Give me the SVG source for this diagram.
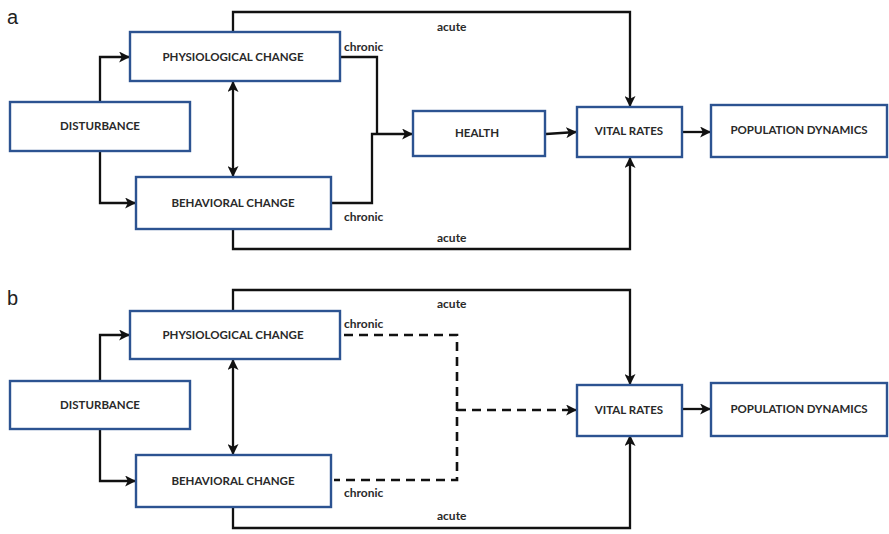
<svg xmlns="http://www.w3.org/2000/svg" width="889" height="534" viewBox="0 0 889 534">
  <style>
    .box rect { fill: #ffffff; stroke: #2c5391; stroke-width: 2.4; }
    .box text { font-family: Lato, "Liberation Sans", sans-serif; font-weight: bold; font-size: 11.5px; fill: #2a2a2a; text-anchor: middle; }
    .lbl { font-family: Lato, "Liberation Sans", sans-serif; font-weight: bold; font-size: 12px; fill: #2a2a2a; }
    .panel { font-family: "Liberation Sans", Arial, sans-serif; font-size: 20px; fill: #222222; }
    .wire { fill: none; stroke: #111111; stroke-width: 2.3; }
    .dash { fill: none; stroke: #111111; stroke-width: 2.6; stroke-dasharray: 9 6; }
  </style>
  <defs>
    <marker id="arrow" viewBox="0 0 10 10" refX="9" refY="5" markerWidth="11" markerHeight="11" markerUnits="userSpaceOnUse" orient="auto-start-reverse">
      <path d="M0,0 L10,5 L0,10 L2.5,5 z" fill="#111111"/>
    </marker>
  </defs>
  <rect width="889" height="534" fill="#ffffff"/>

  <!-- panel a -->
  <text class="panel" x="7" y="24">a</text>
  <g id="connectors-a">
    <path class="wire" d="M100,102 V57 H129" marker-end="url(#arrow)"/>
    <path class="wire" d="M100,151 V203 H135" marker-end="url(#arrow)"/>
    <path class="wire" d="M233,82 V176" marker-start="url(#arrow)" marker-end="url(#arrow)"/>
    <path class="wire" d="M233,32 V12 H630 V106" marker-end="url(#arrow)"/>
    <path class="wire" d="M233,229 V249 H630 V158" marker-end="url(#arrow)"/>
    <path class="wire" d="M341,57 H377 V134"/>
    <path class="wire" d="M332,203 H372 V134 H412" marker-end="url(#arrow)"/>
    <path class="wire" d="M546,134 L576,132" marker-end="url(#arrow)"/>
    <path class="wire" d="M683,132 H710" marker-end="url(#arrow)"/>
    <text class="lbl" x="437" y="31">acute</text>
    <text class="lbl" x="437" y="242">acute</text>
    <text class="lbl" x="344" y="51">chronic</text>
    <text class="lbl" x="344" y="221">chronic</text>
  </g>
  <g id="a-physiological" class="box"><rect x="130" y="32" width="210" height="49"/><text x="233" y="61">PHYSIOLOGICAL CHANGE</text></g>
  <g id="a-disturbance" class="box"><rect x="10" y="102" width="180" height="49"/><text x="100" y="130">DISTURBANCE</text></g>
  <g id="a-behavioral" class="box"><rect x="136" y="177" width="195" height="52"/><text x="233" y="207">BEHAVIORAL CHANGE</text></g>
  <g id="a-health" class="box"><rect x="413" y="111" width="132" height="45"/><text x="477" y="137">HEALTH</text></g>
  <g id="a-vital" class="box"><rect x="577" y="107" width="105" height="50"/><text x="629" y="135">VITAL RATES</text></g>
  <g id="a-population" class="box"><rect x="711" y="105" width="176" height="52"/><text x="799" y="134">POPULATION DYNAMICS</text></g>

  <!-- panel b -->
  <text class="panel" x="7" y="305">b</text>
  <g id="connectors-b">
    <path class="wire" d="M100,381 V335 H129" marker-end="url(#arrow)"/>
    <path class="wire" d="M100,429 V481 H135" marker-end="url(#arrow)"/>
    <path class="wire" d="M233,360 V454" marker-start="url(#arrow)" marker-end="url(#arrow)"/>
    <path class="wire" d="M233,311 V290 H630 V384" marker-end="url(#arrow)"/>
    <path class="wire" d="M233,507 V528 H630 V436" marker-end="url(#arrow)"/>
    <path class="dash" d="M344,335 H457 V480 H334"/>
    <path class="dash" d="M457,410 H570"/>
    <path class="wire" d="M568,410 H576" marker-end="url(#arrow)"/>
    <path class="wire" d="M683,409 H710" marker-end="url(#arrow)"/>
    <text class="lbl" x="437" y="308">acute</text>
    <text class="lbl" x="437" y="520">acute</text>
    <text class="lbl" x="344" y="328">chronic</text>
    <text class="lbl" x="344" y="497">chronic</text>
  </g>
  <g id="b-physiological" class="box"><rect x="130" y="311" width="210" height="48"/><text x="233" y="339">PHYSIOLOGICAL CHANGE</text></g>
  <g id="b-disturbance" class="box"><rect x="10" y="381" width="180" height="48"/><text x="100" y="409">DISTURBANCE</text></g>
  <g id="b-behavioral" class="box"><rect x="136" y="455" width="195" height="52"/><text x="233" y="485">BEHAVIORAL CHANGE</text></g>
  <g id="b-vital" class="box"><rect x="577" y="385" width="105" height="51"/><text x="629" y="414">VITAL RATES</text></g>
  <g id="b-population" class="box"><rect x="711" y="383" width="176" height="53"/><text x="799" y="413">POPULATION DYNAMICS</text></g>
</svg>
